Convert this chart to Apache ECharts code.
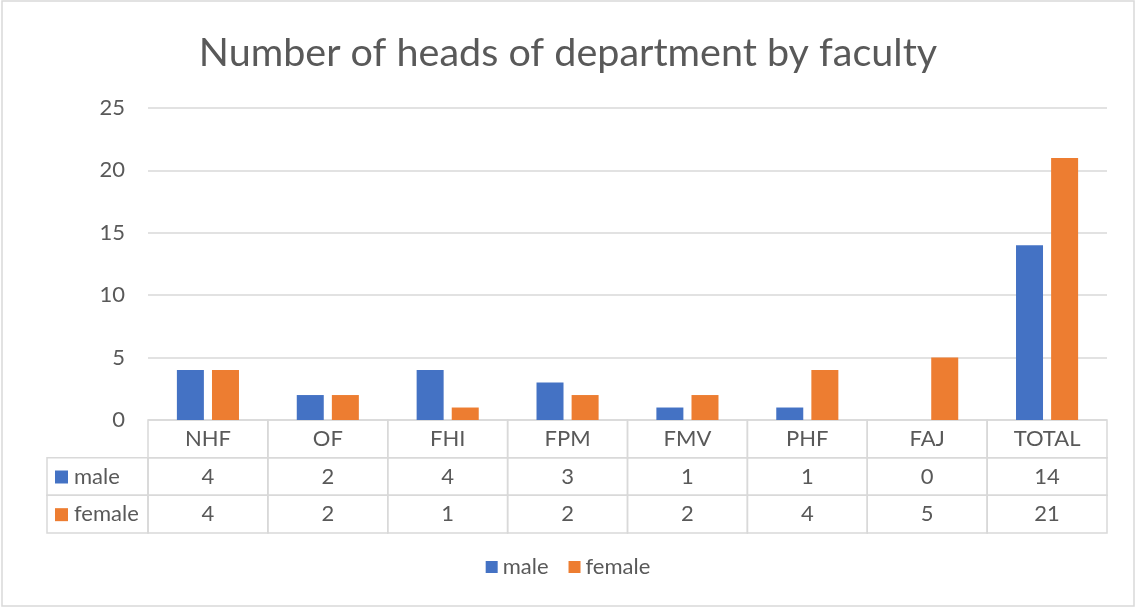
<!DOCTYPE html>
<html>
<head>
<meta charset="utf-8">
<script src="https://cdn.jsdelivr.net/npm/echarts@6/dist/echarts.min.js"></script>
<style>
  html, body { margin: 0; padding: 0; background: #fff; }
  #chart { width: 1136px; height: 608px; }
</style>
</head>
<body>
<div id="chart"></div>
<script>
const categories = ['NHF', 'OF', 'FHI', 'FPM', 'FMV', 'PHF', 'FAJ', 'TOTAL']
const male = [4, 2, 4, 3, 1, 1, 0, 14]
const female = [4, 2, 1, 2, 2, 4, 5, 21]
const rows = ['', 'male', 'female']

const BLUE = '#4472C4'
const ORANGE = '#ED7D31'
const TEXT = '#595959'
const LINE = '#d9d9d9'
const FONT = 'Lato, "Open Sans", sans-serif'

const chart = echarts.init(document.getElementById('chart'))

// table cells: [category index, row index]
const cellData = []
categories.forEach((c, i) => {
  cellData.push([i, 0], [i, 1], [i, 2])
})
const cellText = (i, r) => {
  if (r === 0) return categories[i]
  return String(r === 1 ? male[i] : female[i])
}

const option = {
  animation: false,
  title: {
    text: 'Number of heads of department by faculty',
    left: 'center',
    top: 28,
    textStyle: { fontFamily: FONT, fontSize: 39.5, fontWeight: 'normal', color: TEXT }
  },
  legend: {
    data: ['male', 'female'],
    bottom: 25,
    left: 'center',
    icon: 'rect',
    itemWidth: 12,
    itemHeight: 12,
    itemGap: 20,
    textStyle: { fontFamily: FONT, fontSize: 22, color: TEXT }
  },
  graphic: [{
    type: 'rect',
    shape: { x: 2, y: 1, width: 1132, height: 605 },
    style: { fill: 'none', stroke: LINE, lineWidth: 1.5 },
    silent: true
  }],
  grid: [
    { left: 148, right: 29, top: 108, bottom: 188 },
    { left: 148, right: 29, top: 420, height: 113 }
  ],
  xAxis: [
    {
      type: 'category',
      gridIndex: 0,
      data: categories,
      axisLine: { show: false },
      axisTick: { show: false },
      axisLabel: { show: false }
    },
    {
      type: 'category',
      gridIndex: 1,
      data: categories,
      show: false
    }
  ],
  yAxis: [
    {
      type: 'value',
      gridIndex: 0,
      min: 0,
      max: 25,
      interval: 5,
      axisLine: { show: false },
      axisTick: { show: false },
      axisLabel: { fontFamily: FONT, fontSize: 22, color: TEXT, margin: 23 },
      splitLine: { lineStyle: { color: LINE, width: 1.5 } }
    },
    {
      type: 'category',
      gridIndex: 1,
      data: rows,
      inverse: true,
      show: false
    }
  ],
  series: [
    {
      name: 'male',
      type: 'bar',
      data: male,
      barWidth: 27,
      barGap: '30%',
      itemStyle: { color: BLUE }
    },
    {
      name: 'female',
      type: 'bar',
      data: female,
      barWidth: 27,
      barGap: '30%',
      itemStyle: { color: ORANGE }
    },
    {
      name: 'table',
      type: 'custom',
      xAxisIndex: 1,
      yAxisIndex: 1,
      data: cellData,
      silent: true,
      renderItem (params, api) {
        const i = api.value(0)
        const r = api.value(1)
        const c = api.coord([i, r])
        const s = api.size([1, 1])
        return {
          type: 'group',
          children: [
            {
              type: 'rect',
              shape: { x: c[0] - s[0] / 2, y: c[1] - s[1] / 2, width: s[0], height: s[1] },
              style: { fill: 'none', stroke: LINE, lineWidth: 1.5 }
            },
            {
              type: 'text',
              style: {
                text: cellText(i, r),
                x: c[0],
                y: c[1],
                align: 'center',
                verticalAlign: 'middle',
                font: '22px ' + FONT,
                fill: TEXT
              }
            }
          ]
        }
      }
    },
    {
      name: 'rowLabels',
      type: 'custom',
      xAxisIndex: 1,
      yAxisIndex: 1,
      data: [[0, 1], [0, 2]],
      silent: true,
      renderItem (params, api) {
        const r = api.value(1)
        const c = api.coord([0, r])
        const s = api.size([1, 1])
        const x0 = params.coordSys.x - 101
        const y0 = c[1] - s[1] / 2
        return {
          type: 'group',
          children: [
            {
              type: 'rect',
              shape: { x: x0, y: y0, width: 101, height: s[1] },
              style: { fill: 'none', stroke: LINE, lineWidth: 1.5 }
            },
            {
              type: 'rect',
              shape: { x: x0 + 8, y: c[1] - 6, width: 13, height: 13 },
              style: { fill: r === 1 ? BLUE : ORANGE }
            },
            {
              type: 'text',
              style: {
                text: rows[r],
                x: x0 + 27,
                y: c[1],
                align: 'left',
                verticalAlign: 'middle',
                font: '22px ' + FONT,
                fill: TEXT
              }
            }
          ]
        }
      }
    }
  ]
}

chart.setOption(option)
</script>
</body>
</html>
